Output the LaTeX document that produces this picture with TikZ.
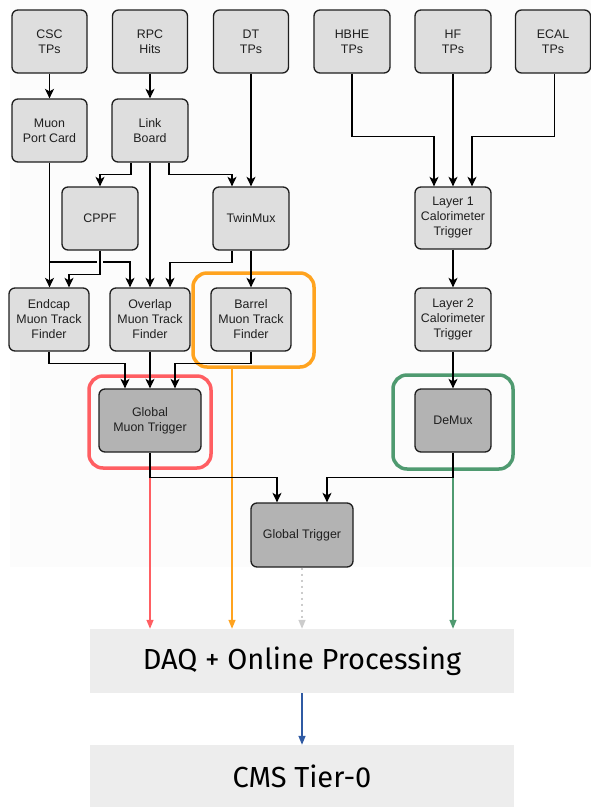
\documentclass[tikz,border=0pt]{standalone}
\usepackage{fontspec}
\setmainfont{Liberation Sans}
\newfontfamily\firafont{Fira Sans}
\usetikzlibrary{arrows.meta}

\definecolor{boxlight}{HTML}{DEDEDE}
\definecolor{boxdark}{HTML}{B3B3B3}
\definecolor{edgec}{HTML}{1E1E1E}
\definecolor{redc}{HTML}{FF5E62}
\definecolor{orangec}{HTML}{FFA31F}
\definecolor{greenc}{HTML}{4F9A70}
\definecolor{grayc}{HTML}{CCCCCC}
\definecolor{bluec}{HTML}{2F5AA3}
\definecolor{daqc}{HTML}{EDEDED}
\definecolor{bgc}{HTML}{FCFCFC}

\tikzset{
  blk/.style={draw=edgec, line width=1.3pt, rounded corners=6pt, fill=boxlight,
    align=center, font=\fontsize{12.4}{15}\selectfont, text=black!88,
    inner sep=0pt, minimum width=#1, minimum height=63pt},
  blk/.default=76pt,
  dark/.style={fill=boxdark},
  frame/.style={draw=#1, line width=3.5pt, rounded corners=14pt, inner sep=0pt},
  stage/.style={fill=daqc, inner sep=0pt, minimum width=424pt,
    font=\firafont\fontsize{29}{34}\selectfont, text=black},
  ln/.style={draw=black, line width=1.3pt},
  arr/.style={ln, -{Stealth[length=9.5pt,width=9pt,inset=2.5pt]}},
  carr/.style={draw=#1, line width=1.4pt, -{Triangle[length=9pt,width=7pt]}},
}

\begin{document}
\begin{tikzpicture}[x=1pt,y=-1pt]
  \useasboundingbox (0,0) rectangle (591,807);
  \fill[bgc] (10,0) rectangle (591,567);

  % trigger primitives
  \node[blk=75pt] (csc)  at (49.5,41.5) {CSC\\TPs};
  \node[blk=75pt] (rpc)  at (150,41.5)  {RPC\\Hits};
  \node[blk=75pt] (dt)   at (251,41.5)  {DT\\TPs};
  \node[blk]      (hbhe) at (352,41.5)  {HBHE\\TPs};
  \node[blk]      (hf)   at (453,41.5)  {HF\\TPs};
  \node[blk=75pt] (ecal) at (553,41.5)  {ECAL\\TPs};

  % muon front ends
  \node[blk=75pt] (mpc)  at (49.5,130.5) {Muon\\Port Card};
  \node[blk]      (lb)   at (150,130.5)  {Link\\Board};
  \node[blk]      (cppf) at (100,218.5)  {CPPF};
  \node[blk]      (tmux) at (251,218.5)  {TwinMux};
  \node[blk, minimum height=62pt] (l1) at (453,218) {Layer 1\\Calorimeter\\Trigger};

  % track finders
  \node[blk=80pt] (emtf) at (49,319.5)  {Endcap\\Muon Track\\Finder};
  \node[blk=80pt] (omtf) at (150,319.5) {Overlap\\Muon Track\\Finder};
  \node[blk=80pt] (bmtf) at (251,319.5) {Barrel\\Muon Track\\Finder};
  \node[blk]      (l2)   at (453,319.5) {Layer 2\\Calorimeter\\Trigger};

  % global stages
  \node[blk=102pt, dark] (gmt)   at (150,420.5) {Global\\Muon Trigger};
  \node[blk, dark]       (demux) at (453,420.5) {DeMux};
  \node[blk=102pt, dark, minimum height=64pt] (gt) at (302,535) {Global Trigger};

  % highlight frames
  \node[frame=orangec, minimum width=121pt, minimum height=94pt] (bfr) at (253.5,320) {};
  \node[frame=redc,    minimum width=122pt, minimum height=92pt] (mfr) at (150,422) {};
  \node[frame=greenc,  minimum width=120pt, minimum height=94pt] (gfr) at (453,422) {};

  % offline stages
  \node[stage, minimum height=64pt] (daq)   at (302,661) {DAQ + Online Processing};
  \node[stage, minimum height=62pt] (tier0) at (302,776) {CMS Tier-0};

  % readout paths into DAQ
  \coordinate (bo) at ([xshift=-21.5pt]bfr.south);
  \draw[carr=redc]    (mfr.south) -- (mfr.south |- daq.north);
  \draw[carr=orangec] (bo) -- (bo |- daq.north);
  \draw[carr=greenc]  (gfr.south) -- (gfr.south |- daq.north);
  \draw[carr=grayc, dash pattern=on 2pt off 4pt] (gt.south) -- (gt.south |- daq.north);
  \draw[carr=bluec]   (daq.south) -- (tier0.north);

  % muon chain
  \draw[arr] (csc.south) -- (mpc.north);
  \draw[arr] (rpc.south) -- (lb.north);
  \draw[arr] (dt.south) -- (tmux.north);
  \draw[arr] (mpc.south) -- (mpc.south |- emtf.north);
  \draw[arr] ([xshift=-19pt]lb.south) -- ++(0,12) -| (cppf.north);
  \draw[arr] ([xshift=19pt]lb.south) -- ++(0,12) -| ([xshift=-19pt]tmux.north);
  \draw[arr] (lb.south) -- (omtf.north);
  \coordinate (jl) at (97,262);
  \coordinate (jr) at (103,262);
  \draw[ln]  (mpc.south) |- (jl);
  \draw[arr] (jr) -| ([xshift=-20pt]omtf.north);
  \draw[arr] (cppf.south) -- ++(0,24) -| ([xshift=20pt]emtf.north);
  \draw[arr] ([xshift=-19pt]tmux.south) -- ++(0,12) -| ([xshift=20pt]omtf.north);
  \draw[arr] (tmux.south) -- (bmtf.north);
  \draw[arr] (emtf.south) -- ++(0,12) -| ([xshift=-25pt]gmt.north);
  \draw[arr] (omtf.south) -- (gmt.north);
  \draw[arr] (bmtf.south) -- ++(0,12) -| ([xshift=25pt]gmt.north);

  % calorimeter chain
  \draw[arr] (hbhe.south) -- ++(0,63) -| ([xshift=-19pt]l1.north);
  \draw[arr] (hf.south) -- (l1.north);
  \draw[arr] ([xshift=1.5pt]ecal.south) -- ++(0,63) -| ([xshift=19pt]l1.north);
  \draw[arr] (l1.south) -- (l2.north);
  \draw[arr] (l2.south) -- (demux.north);

  % into the global trigger
  \draw[arr] (gmt.south) -- ++(0,25) -| ([xshift=-25pt]gt.north);
  \draw[arr] (demux.south) -- ++(0,25) -| ([xshift=25pt]gt.north);
\end{tikzpicture}
\end{document}
